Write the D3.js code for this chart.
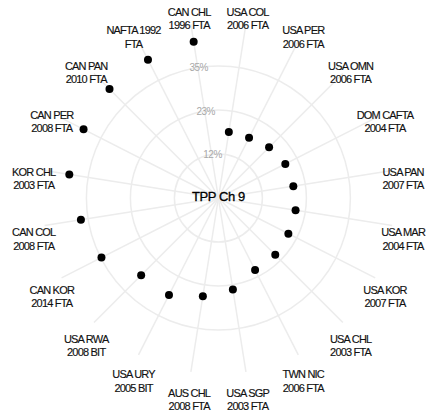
<!DOCTYPE html>
<html>
<head>
<meta charset="utf-8">
<script src="https://cdn.jsdelivr.net/npm/d3@7"></script>
<style>
  html, body { margin: 0; padding: 0; background: #fff; }
  svg { display: block; }
</style>
</head>
<body>
<div id="chart"></div>
<script>
// ---- data ----
const categories = [
  ["USA COL", "2006 FTA"],
  ["USA PER", "2006 FTA"],
  ["USA OMN", "2006 FTA"],
  ["DOM CAFTA", "2004 FTA"],
  ["USA PAN", "2007 FTA"],
  ["USA MAR", "2004 FTA"],
  ["USA KOR", "2007 FTA"],
  ["USA CHL", "2003 FTA"],
  ["TWN NIC", "2006 FTA"],
  ["USA SGP", "2003 FTA"],
  ["AUS CHL", "2008 FTA"],
  ["USA URY", "2005 BIT"],
  ["USA RWA", "2008 BIT"],
  ["CAN KOR", "2014 FTA"],
  ["CAN COL", "2008 FTA"],
  ["KOR CHL", "2003 FTA"],
  ["CAN PER", "2008 FTA"],
  ["CAN PAN", "2010 FTA"],
  ["NAFTA 1992", "FTA"],
  ["CAN CHL", "1996 FTA"]
];
const values = [17.6, 17.8, 18.9, 19.8, 20.0, 20.6, 20.7, 21.2, 21.3, 24.4,
                26.2, 28.7, 28.8, 34.6, 36.7, 39.8, 39.9, 40.6, 40.9, 41.7];
const maxValue = 46.4;
const tickValues = [11.6, 23.2, 34.8];
const tickLabels = ["12%", "23%", "35%"];
const centerTitle = "TPP Ch 9";

// ---- layout ----
const W = 426, H = 415;
const cx = 218.4, cy = 198;
const R = 176;

const svg = d3.select("#chart").append("svg")
  .attr("width", W).attr("height", H);
const g = svg.append("g").attr("transform", `translate(${cx},${cy})`);

const n = categories.length;
const angle = d3.scaleBand().domain(d3.range(n)).range([0, 2 * Math.PI]);
const ang = i => angle(i) + angle.bandwidth() / 2;
const r = d3.scaleLinear().domain([0, maxValue]).range([0, R]);

// grid circles
g.selectAll("circle.grid").data(tickValues).join("circle")
  .attr("class", "grid")
  .attr("r", d => r(d))
  .attr("fill", "none")
  .attr("stroke", "#ececec")
  .attr("stroke-width", 1.5);

// spokes
g.selectAll("line.spoke").data(d3.range(n)).join("line")
  .attr("class", "spoke")
  .attr("x1", 0).attr("y1", 0)
  .attr("x2", i => r(maxValue) * Math.sin(ang(i)))
  .attr("y2", i => -r(maxValue) * Math.cos(ang(i)))
  .attr("stroke", "#ececec")
  .attr("stroke-width", 1.5);

// tick labels along the last spoke
const tickAng = ang(n - 1);
g.selectAll("text.tick").data(tickValues).join("text")
  .attr("class", "tick")
  .attr("x", d => r(d) * Math.sin(tickAng) + 1)
  .attr("y", d => -r(d) * Math.cos(tickAng))
  .attr("dy", "0.35em")
  .attr("text-anchor", "middle")
  .attr("font-family", "'Liberation Sans', Arial, sans-serif")
  .attr("font-size", 10)
  .attr("letter-spacing", "-0.5px")
  .attr("fill", "#a8a8a8")
  .text((d, i) => tickLabels[i]);

// category labels
const Rx = 187, Ry = 193, dOff = 11;
const lab = g.selectAll("text.cat").data(categories).join("text")
  .attr("class", "cat")
  .attr("text-anchor", "middle")
  .attr("font-family", "'Liberation Sans', Arial, sans-serif")
  .attr("font-size", 11)
  .attr("letter-spacing", "-0.8px")
  .attr("fill", "#111")
  .attr("stroke", "#111")
  .attr("stroke-width", 0.15);
lab.each(function(d, i) {
  const x = Rx * Math.sin(ang(i));
  const y = -Ry * Math.cos(ang(i)) + dOff;
  const t = d3.select(this);
  t.append("tspan").attr("x", x).attr("y", y - 2.7).text(d[0]);
  t.append("tspan").attr("x", x).attr("y", y + 10.6).text(d[1]);
});

// dots
g.selectAll("circle.dot").data(values).join("circle")
  .attr("class", "dot")
  .attr("cx", (d, i) => r(d) * Math.sin(ang(i)))
  .attr("cy", (d, i) => -r(d) * Math.cos(ang(i)))
  .attr("r", 4)
  .attr("fill", "#000");

// center title
g.append("text")
  .attr("x", 0).attr("y", -2)
  .attr("dy", "0.35em")
  .attr("text-anchor", "middle")
  .attr("font-family", "'Liberation Sans', Arial, sans-serif")
  .attr("font-size", 13)
  .attr("letter-spacing", "-0.4px")
  .attr("fill", "#000")
  .attr("stroke", "#000")
  .attr("stroke-width", 0.3)
  .text(centerTitle);
</script>
</body>
</html>
